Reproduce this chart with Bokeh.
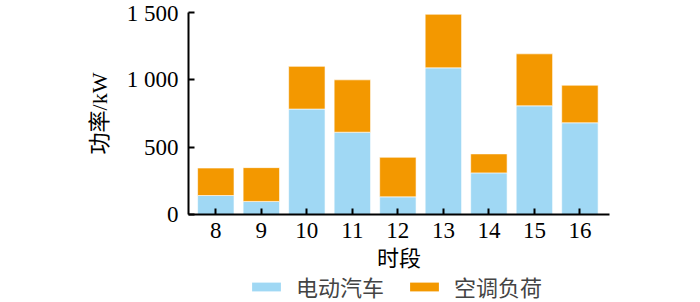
from bokeh.plotting import figure
from bokeh.layouts import column
from bokeh.models import FixedTicker, Legend, LegendItem, ColumnDataSource
from bokeh.embed import file_html
from bokeh.resources import INLINE

# Time periods and stacked power components (kW)
periods = [8, 9, 10, 11, 12, 13, 14, 15, 16]
ev_power = [141, 97, 783, 611, 131, 1089, 309, 807, 681]
ac_power = [204, 251, 317, 389, 294, 398, 141, 386, 279]

y_ticks = [0, 500, 1000, 1500]
y_tick_labels = {0: "0", 500: "500", 1000: "1 000", 1500: "1 500"}

series_names = ["电动汽车", "空调负荷"]
series_colors = ["#A0D8F4", "#F39800"]

FONT = "'Liberation Serif', 'Noto Sans CJK SC'"

source = ColumnDataSource(dict(period=periods, ev=ev_power, ac=ac_power))

chart = figure(width=700, height=276, output_backend="svg", toolbar_location=None,
               x_range=(7.4, 16.65), y_range=(0, 1500),
               min_border_left=188, min_border_right=91,
               min_border_top=12, min_border_bottom=62)

chart.vbar_stack(["ev", "ac"], x="period", width=0.8, source=source,
                 color=series_colors, line_color="white", line_width=0.6)

chart.xgrid.visible = False
chart.ygrid.visible = False
chart.outline_line_color = None

for ax in (chart.xaxis, chart.yaxis):
    ax.axis_line_width = 2
    ax.axis_line_color = "black"
    ax.major_tick_line_width = 2
    ax.major_tick_line_color = "black"
    ax.major_tick_in = 6
    ax.major_tick_out = 0
    ax.minor_tick_line_color = None
    ax.major_label_text_font = FONT
    ax.major_label_text_font_size = "23px"
    ax.major_label_text_color = "black"
    ax.axis_label_text_font = FONT
    ax.axis_label_text_font_size = "22px"
    ax.axis_label_text_font_style = "normal"
    ax.axis_label_text_color = "black"

chart.xaxis.ticker = FixedTicker(ticks=periods)
chart.xaxis.major_label_standoff = 8
chart.xaxis.axis_label = "时段"
chart.xaxis.axis_label_standoff = 5

chart.yaxis.ticker = FixedTicker(ticks=y_ticks)
chart.yaxis.major_label_overrides = y_tick_labels
chart.yaxis.major_label_standoff = 10
chart.yaxis.axis_label = "功率/kW"
chart.yaxis.axis_label_standoff = 12

# Legend strip under the chart; its y range lies above the data,
# so only the legend swatches show.
key = figure(width=700, height=26, output_backend="svg", toolbar_location=None,
             x_range=(7.4, 16.65), y_range=(2000, 3000),
             x_axis_type=None, y_axis_type=None,
             min_border_left=188, min_border_right=91, min_border_top=0,
             min_border_bottom=0, outline_line_color=None)
key.xgrid.visible = False
key.ygrid.visible = False
swatches = key.vbar_stack(["ev", "ac"], x="period", width=0.8, source=source,
                          color=series_colors, line_color=None)

legend = Legend(items=[LegendItem(label=n, renderers=[r]) for n, r in zip(series_names, swatches)],
                location=(60, 0), orientation="horizontal",
                glyph_width=36, glyph_height=11, label_standoff=12, spacing=22,
                label_text_font=FONT, label_text_font_size="22px",
                border_line_color=None, background_fill_alpha=0,
                padding=0, margin=0)
key.add_layout(legend, "center")

p = column(chart, key, spacing=0)

open("out.html", "w").write(file_html(p, INLINE))
